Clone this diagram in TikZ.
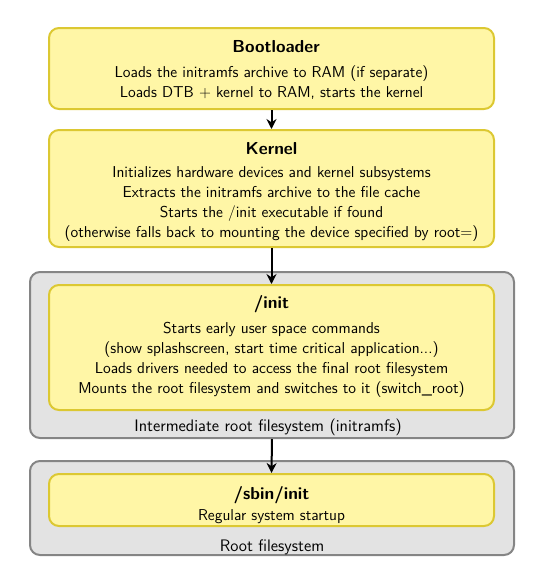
\documentclass[tikz,border=0pt]{standalone}
\usetikzlibrary{arrows.meta}
\renewcommand{\familydefault}{\sfdefault}
\definecolor{yfill}{HTML}{FFF6A6}
\definecolor{ydraw}{HTML}{DCC832}
\definecolor{gfill}{HTML}{E3E3E3}
\definecolor{gdraw}{HTML}{858585}
\tikzset{
  ybox/.style={draw=ydraw, fill=yfill, line width=1.5pt, rounded corners=7.5pt, minimum width=333.75pt, inner sep=0pt},
  gbox/.style={draw=gdraw, fill=gfill, line width=1.5pt, rounded corners=7.5pt, minimum width=363pt, inner sep=0pt},
  title/.style={font=\fontsize{13}{15}\selectfont\bfseries, inner sep=0pt},
  body/.style={font=\fontsize{11.8}{15}\selectfont, align=center, inner sep=0pt},
  lbl/.style={font=\fontsize{12.5}{15}\selectfont, inner sep=0pt},
  arr/.style={-{Stealth[length=7.5pt,width=7.5pt]}, line width=1.5pt, black}
}
\begin{document}
\begin{tikzpicture}[x=0.75pt, y=-0.75pt]
\useasboundingbox (0,0) rectangle (553,583);
\node[gbox, minimum height=124.5pt] (g1) at (272,355) {};
\node[gbox, minimum height=70.5pt] (g2) at (272,508) {};
\node[ybox, minimum height=60.75pt] (boot) at (271.5,68.5) {};
\node[ybox, minimum height=87.75pt] (kern) at (271.5,188.5) {};
\node[ybox, minimum height=93.75pt] (init) at (271.5,347.5) {};
\node[ybox, minimum height=39pt] (sbin) at (271.5,500) {};
\node[title] (t1) at (276,46.5) {Bootloader};
\node[body] (b1) at (271.5,83) {Loads the initramfs archive to RAM (if separate)\\Loads DTB + kernel to RAM, starts the kernel};
\node[title] (t2) at (271.5,149) {Kernel};
\node[body] (b2) at (271.5,204) {Initializes hardware devices and kernel subsystems\\Extracts the initramfs archive to the file cache\\Starts the /init executable if found\\(otherwise falls back to mounting the device specified by root=)};
\node[title] (t3) at (271.5,304) {/init};
\node[body] (b3) at (271.5,360) {Starts early user space commands\\(show splashscreen, start time critical application...)\\Loads drivers needed to access the final root filesystem\\Mounts the root filesystem and switches to it (switch\_root)};
\node[lbl] (l1) at (268,427) {Intermediate root filesystem (initramfs)};
\node[title] (t4) at (271.5,495) {/sbin/init};
\node[body] (b4) at (271.5,517) {Regular system startup};
\node[lbl] (l2) at (272,547) {Root filesystem};
\draw[arr] (boot.south) -- (kern.north);
\draw[arr] (kern.south) -- (init.north);
\draw[arr] (g1.south) -- (sbin.north);
\end{tikzpicture}
\end{document}
